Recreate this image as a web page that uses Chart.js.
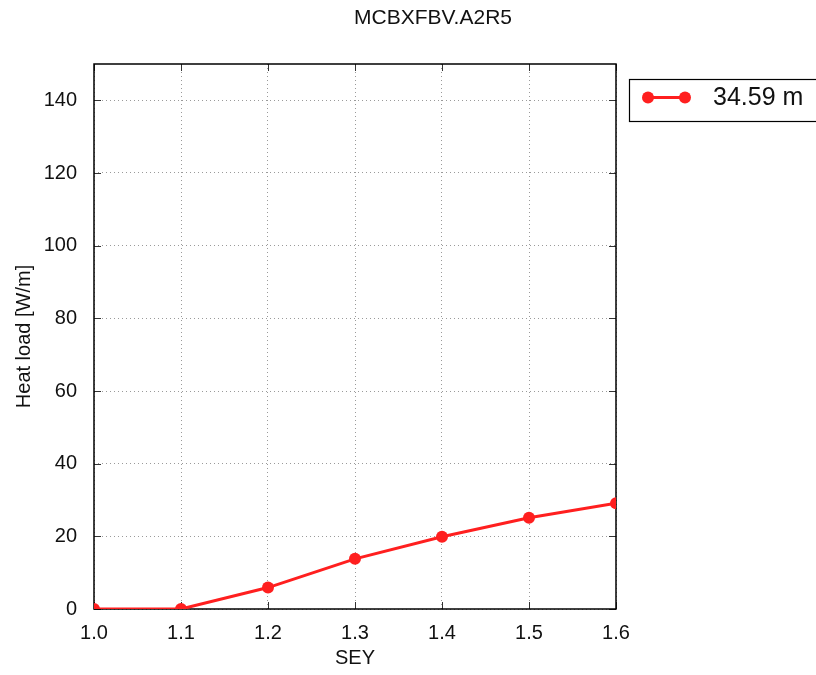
<!DOCTYPE html>
<html>
<head>
<meta charset="utf-8">
<title>MCBXFBV.A2R5</title>
<script src="https://cdn.jsdelivr.net/npm/chart.js@4.4.1/dist/chart.umd.min.js"></script>
<style>
    html, body { margin: 0; padding: 0; background: #fff; }
    canvas { display: block; }
</style>
</head>
<body>
<canvas id="heatChart" width="816" height="675"></canvas>
<script>
const chartTitle = 'MCBXFBV.A2R5';
const seriesLabel = '34.59 m';
const seyValues = [1.0, 1.1, 1.2, 1.3, 1.4, 1.5, 1.6];
const heatLoad = [0, 0, 5.9, 13.8, 19.9, 25.1, 29.1];
const xTicks = [1.0, 1.1, 1.2, 1.3, 1.4, 1.5, 1.6];
const yTicks = [0, 20, 40, 60, 80, 100, 120, 140];

const FONT = "'Liberation Sans', Arial, sans-serif";
const LINE_RED = '#ff1f1f';

// frame, inward tick marks, title and legend box
const decorations = {
    id: 'decorations',
    beforeDatasetsDraw(chart) {
        const { ctx, chartArea: a, scales } = chart;
        ctx.save();
        ctx.strokeStyle = '#333';
        ctx.lineWidth = 1;
        const len = 7;
        xTicks.forEach(v => {
            const x = Math.round(scales.x.getPixelForValue(v)) + 0.5;
            ctx.beginPath();
            ctx.moveTo(x, a.bottom); ctx.lineTo(x, a.bottom - len);
            ctx.moveTo(x, a.top); ctx.lineTo(x, a.top + len);
            ctx.stroke();
        });
        yTicks.forEach(v => {
            const y = Math.round(scales.y.getPixelForValue(v)) + 0.5;
            ctx.beginPath();
            ctx.moveTo(a.left, y); ctx.lineTo(a.left + len, y);
            ctx.moveTo(a.right, y); ctx.lineTo(a.right - len, y);
            ctx.stroke();
        });
        ctx.strokeStyle = '#000';
        ctx.lineWidth = 1.5;
        ctx.strokeRect(a.left, a.top, a.right - a.left, a.bottom - a.top);
        ctx.restore();
    },
    afterDraw(chart) {
        const { ctx } = chart;
        const ds = chart.data.datasets[0];
        ctx.save();
        ctx.fillStyle = '#111';
        ctx.font = '21px ' + FONT;
        ctx.textAlign = 'center';
        ctx.textBaseline = 'middle';
        ctx.fillText(chartTitle, 433, 18);

        // legend
        ctx.strokeStyle = '#000';
        ctx.lineWidth = 1.2;
        ctx.strokeRect(629.5, 79.5, 200, 42);
        ctx.strokeStyle = ds.borderColor;
        ctx.lineWidth = 3;
        ctx.beginPath();
        ctx.moveTo(648, 97.5); ctx.lineTo(685, 97.5);
        ctx.stroke();
        ctx.fillStyle = ds.pointBackgroundColor;
        [648, 685].forEach(x => {
            ctx.beginPath();
            ctx.arc(x, 97.5, 6, 0, Math.PI * 2);
            ctx.fill();
        });
        ctx.fillStyle = '#111';
        ctx.font = '25px ' + FONT;
        ctx.textAlign = 'left';
        ctx.fillText(ds.label, 713, 98);
        ctx.restore();
    }
};

const gridStyle = {
    color: '#9a9a9a',
    lineWidth: 1,
    drawTicks: false
};

new Chart(document.getElementById('heatChart'), {
    type: 'line',
    data: {
        datasets: [{
            label: seriesLabel,
            data: seyValues.map((x, i) => ({ x: x, y: heatLoad[i] })),
            borderColor: LINE_RED,
            backgroundColor: LINE_RED,
            pointBackgroundColor: LINE_RED,
            pointBorderColor: LINE_RED,
            borderWidth: 3,
            pointRadius: 6,
            pointBorderWidth: 0,
            tension: 0,
            clip: 0
        }]
    },
    options: {
        responsive: false,
        devicePixelRatio: 1,
        animation: false,
        layout: { padding: { top: 64, right: 200, bottom: 0, left: 0 } },
        plugins: {
            legend: { display: false },
            title: { display: false },
            tooltip: { enabled: false }
        },
        scales: {
            x: {
                type: 'linear',
                min: 1.0,
                max: 1.6,
                afterFit(scale) { scale.height = 66; },
                afterBuildTicks(scale) { scale.ticks = xTicks.map(v => ({ value: v })); },
                grid: gridStyle,
                border: { display: false, dash: [1, 3] },
                ticks: {
                    padding: 12,
                    color: '#111',
                    font: { family: FONT, size: 20 },
                    maxRotation: 0,
                    callback: v => Number(v).toFixed(1)
                },
                title: {
                    display: true,
                    text: 'SEY',
                    color: '#111',
                    font: { family: FONT, size: 20 },
                    padding: { top: 0, bottom: 5 }
                }
            },
            y: {
                type: 'linear',
                min: 0,
                max: 150,
                afterFit(scale) { scale.width = 94; },
                afterBuildTicks(scale) { scale.ticks = yTicks.map(v => ({ value: v })); },
                grid: gridStyle,
                border: { display: false, dash: [1, 3] },
                ticks: {
                    padding: 17,
                    color: '#111',
                    font: { family: FONT, size: 20 }
                },
                title: {
                    display: true,
                    text: 'Heat load [W/m]',
                    color: '#111',
                    font: { family: FONT, size: 20 },
                    padding: { top: 12, bottom: 0 }
                }
            }
        }
    },
    plugins: [decorations]
});
</script>
</body>
</html>
